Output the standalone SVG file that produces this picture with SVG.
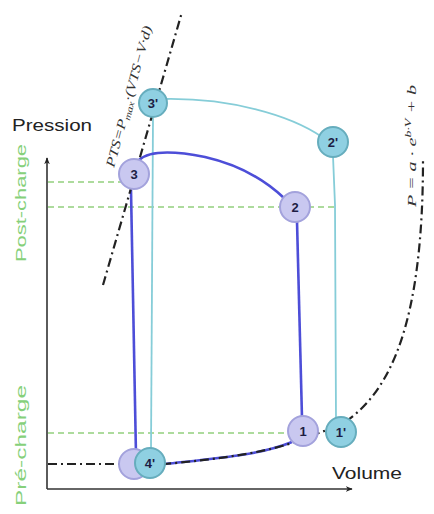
<svg xmlns="http://www.w3.org/2000/svg" width="434" height="514" viewBox="0 0 434 514">
<defs>
<marker id="arr" viewBox="0 0 10 10" refX="9" refY="5" markerWidth="7" markerHeight="7" orient="auto-start-reverse" markerUnits="userSpaceOnUse"><path d="M0,1 L10,5 L0,9 L3,5 Z" fill="#222"/></marker>
</defs>
<style>
.axis{stroke:#333;stroke-width:1.6;fill:none}
.gdash{stroke:#92d07e;stroke-width:1.5;stroke-dasharray:6 4;fill:none}
.kdash{stroke:#222;stroke-width:2.2;stroke-dasharray:9 4 2 4;fill:none}
.blue{stroke:#4d4ed8;stroke-width:2.6;fill:none}
.teal{stroke:#86cdd8;stroke-width:1.8;fill:none}
.nb circle{fill:#c9c8f0;stroke:#a3a2dc;stroke-width:2}
.nt circle{fill:#8fd0e2;stroke:#66adbd;stroke-width:2}
.lbl{font-family:"Liberation Sans",Arial,sans-serif;font-weight:bold;font-size:13px;fill:#1d1d44;text-anchor:middle}
.ax{font-family:"Liberation Sans",Arial,sans-serif;font-size:16px;fill:#222}
.grn{font-family:"Liberation Sans",Arial,sans-serif;font-size:14px;fill:#86d07a}
.fml{font-family:"Liberation Serif","Times New Roman",serif;font-style:italic;font-size:13px;fill:#333}
</style>
<rect width="434" height="514" fill="#fff"/>
<g id="labels">
<text class="ax" x="12" y="131" textLength="80" lengthAdjust="spacingAndGlyphs">Pression</text>
<text class="ax" x="332" y="479" textLength="70" lengthAdjust="spacingAndGlyphs">Volume</text>
<text class="grn" transform="translate(26,262) rotate(-90)" textLength="118" lengthAdjust="spacingAndGlyphs">Post-charge</text>
<text class="grn" transform="translate(26,506) rotate(-90)" textLength="121" lengthAdjust="spacingAndGlyphs">Pré-charge</text>
<text class="fml" transform="translate(114,168) rotate(-75)" textLength="146" lengthAdjust="spacingAndGlyphs">PTS=P<tspan font-size="9" dy="3">max</tspan><tspan dy="-3">·(VTS−V·d)</tspan></text>
<text class="fml" transform="translate(416,207) rotate(-90)" textLength="122" lengthAdjust="spacingAndGlyphs">P = a · e<tspan font-size="9" dy="-5">b·V</tspan><tspan dy="5"> + b</tspan></text>
</g>
<g id="connectors">
<line class="axis" x1="47" y1="489" x2="47" y2="158" marker-end="url(#arr)"/>
<line class="axis" x1="47" y1="489" x2="352" y2="489" marker-end="url(#arr)"/>
<line class="gdash" x1="48" y1="182" x2="122" y2="182"/>
<line class="gdash" x1="48" y1="207" x2="335" y2="207"/>
<line class="gdash" x1="48" y1="433" x2="290" y2="433"/>
<path class="teal" d="M165,99 C230,98 290,115 322,137"/>
<path class="teal" d="M333,156 L335,205 L336,420"/>
<path class="teal" d="M153,118 L151,450"/>
<path class="blue" d="M139,160 C150,150 175,151 205,157 C240,165 265,180 284,198"/>
<path class="blue" d="M297,221 L302,418"/>
<path class="blue" d="M292,442 C260,455 220,458 165,464"/>
<path class="blue" d="M131,190 L136,455"/>
<path class="kdash" d="M103,285 L182,12"/>
<path class="kdash" d="M48,464 L165,464 C220,459 270,452 300,440 C320,432 335,428 345,422 C392,390 423,320 423,160"/>
</g>
<g id="node-4" class="nb"><circle cx="134" cy="464" r="15"/></g>
<g id="node-4p" class="nt"><circle cx="150" cy="463" r="15"/><text class="lbl" x="150" y="468">4'</text></g>
<g id="node-3p" class="nt"><circle cx="153" cy="103" r="14"/><text class="lbl" x="153" y="108">3'</text></g>
<g id="node-3" class="nb"><circle cx="134" cy="174" r="15"/><text class="lbl" x="134" y="179">3</text></g>
<g id="node-2" class="nb"><circle cx="295" cy="207" r="15"/><text class="lbl" x="295" y="212">2</text></g>
<g id="node-2p" class="nt"><circle cx="333" cy="142" r="15"/><text class="lbl" x="333" y="147">2'</text></g>
<g id="node-1" class="nb"><circle cx="303" cy="431" r="15"/><text class="lbl" x="303" y="436">1</text></g>
<g id="node-1p" class="nt"><circle cx="341" cy="432" r="15"/><text class="lbl" x="341" y="437">1'</text></g>
</svg>
